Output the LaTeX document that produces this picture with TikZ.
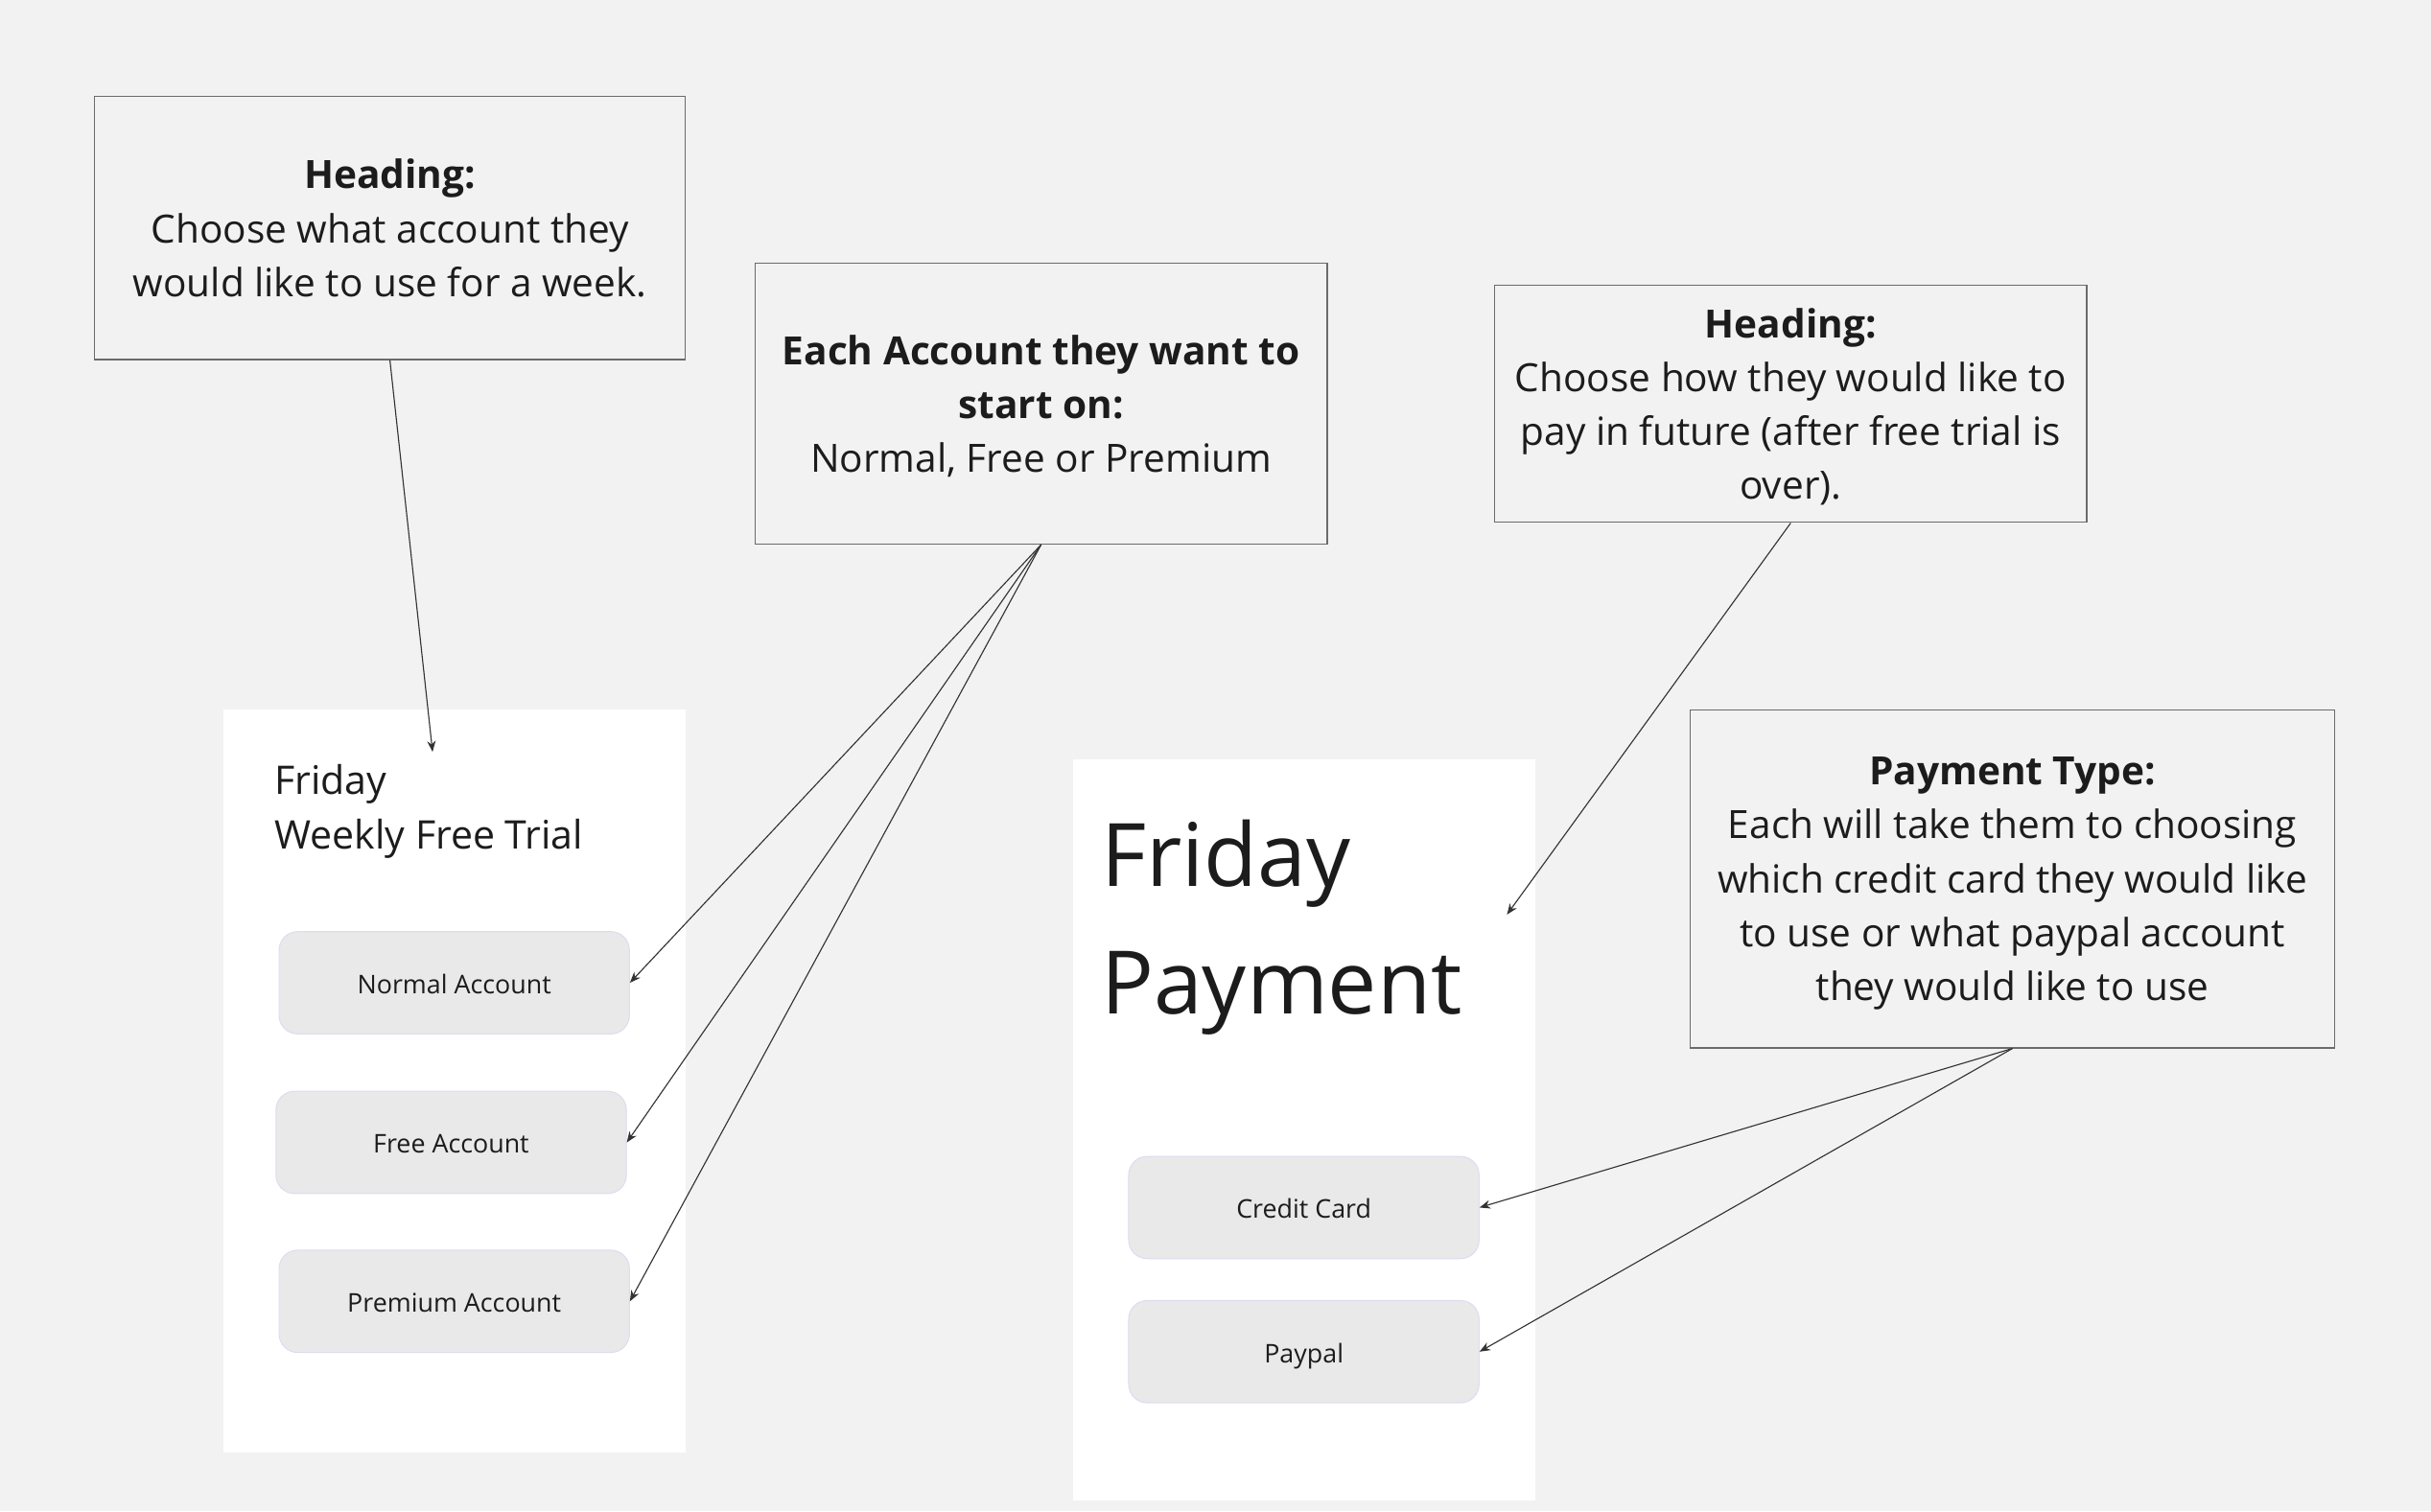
\documentclass[tikz,border=0pt]{standalone}
\usepackage{fontspec}
\setmainfont{Open Sans}
\usetikzlibrary{arrows.meta}
\definecolor{canvas}{HTML}{F2F2F2}
\definecolor{frame}{HTML}{6B6B6B}
\definecolor{ink}{HTML}{1C1C1C}
\definecolor{btnfill}{HTML}{E9E9EA}
\definecolor{btnline}{HTML}{DCDCF0}
\definecolor{wire}{HTML}{333333}
\begin{document}
\begin{tikzpicture}[x=1pt,y=-1pt,
  note/.style={draw=frame,line width=0.8pt,fill=canvas,rectangle,inner sep=0pt,
    text=ink,align=center,text depth=0pt,font=\fontsize{25.1}{34.75}\selectfont},
  screen/.style={fill=white,draw=none,rectangle,inner sep=0pt},
  btn/.style={fill=btnfill,draw=btnline,line width=0.6pt,rounded corners=12pt,
    minimum width=226pt,minimum height=66pt,inner sep=0pt,text=ink,
    text height=17pt,text depth=3pt,font=\fontsize{16.6}{20}\selectfont},
  title/.style={anchor=base west,inner sep=0pt,text=ink},
  link/.style={draw=wire,line width=0.7pt,-{Stealth[length=7pt,width=5.5pt]}}]
  % canvas
  \fill[canvas] (0,0) rectangle (1568,975);
  \useasboundingbox (0,0) rectangle (1568,975);

  % phone screens
  \node[screen,minimum width=298pt,minimum height=479pt] (s1) at (293,697.5) {};
  \node[screen,minimum width=298pt,minimum height=478pt] (s2) at (841,729) {};

  % first screen: weekly free trial
  \node[title,font=\fontsize{25.4}{30}\selectfont] (t1a) at (177,512.5) {Friday};
  \node[title,font=\fontsize{25.4}{30}\selectfont] (t1b) at (177,548) {Weekly Free Trial};
  \node[btn] (normal) at (293,634) {Normal Account};
  \node[btn] (free) at (291,737) {Free Account};
  \node[btn] (premium) at (293,839.5) {Premium Account};

  % second screen: payment
  \node[title,font=\fontsize{56.5}{70}\selectfont] (t2a) at (710,572) {Friday};
  \node[title,font=\fontsize{56.5}{70}\selectfont] (t2b) at (710,654) {Payment};
  \node[btn] (card) at (841,779) {Credit Card};
  \node[btn] (paypal) at (841,872) {Paypal};

  % annotation boxes
  \node[note,minimum width=381pt,minimum height=170pt] (h1) at (251.5,147)
    {\textbf{Heading:}\\Choose what account they\\would like to use for a week.};
  \node[note,minimum width=369pt,minimum height=181pt] (acc) at (671.5,260.5)
    {\textbf{Each Account they want to}\\\textbf{start on:}\\Normal, Free or Premium};
  \node[note,minimum width=382pt,minimum height=153pt] (h2) at (1155,260.5)
    {\textbf{Heading:}\\Choose how they would like to\\pay in future (after free trial is\\over).};
  \node[note,minimum width=416pt,minimum height=218pt] (pay) at (1298,567)
    {\textbf{Payment Type:}\\Each will take them to choosing\\which credit card they would like\\to use or what paypal account\\they would like to use};

  % arrow targets inside the screens
  \coordinate (top1) at (279,485);
  \coordinate (top2) at (972,590);

  % connectors
  \draw[link] (h1.south) -- (top1);
  \draw[link] (acc.south) -- (normal.east);
  \draw[link] (acc.south) -- (free.east);
  \draw[link] (acc.south) -- (premium.east);
  \draw[link] (h2.south) -- (top2);
  \draw[link] (pay.south) -- (card.east);
  \draw[link] (pay.south) -- (paypal.east);
\end{tikzpicture}
\end{document}
